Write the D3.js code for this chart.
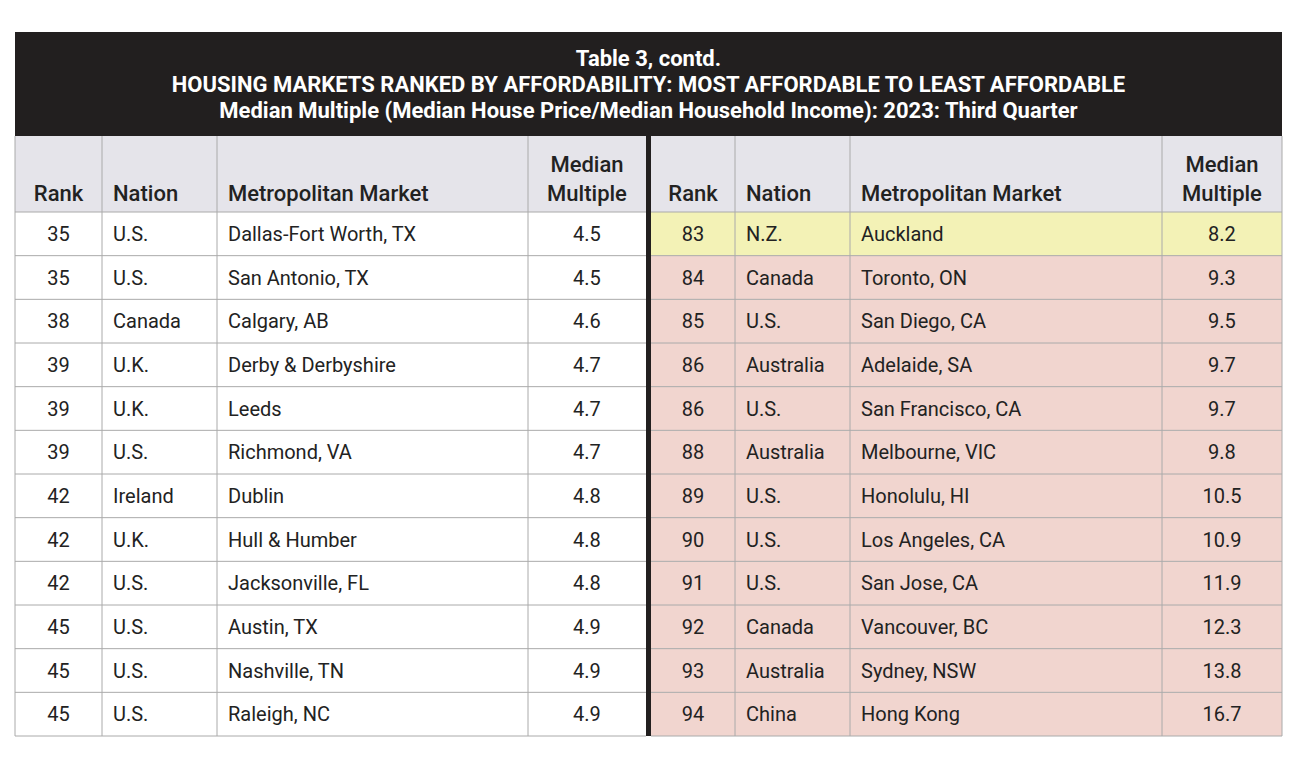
<!DOCTYPE html>
<html><head><meta charset="utf-8">
<script src="https://cdn.jsdelivr.net/npm/d3@7"></script>
<style>body{margin:0;background:#fff}</style></head>
<body><svg id="c" width="1300" height="780"></svg>
<script>
const titleLines=["Table 3, contd.","HOUSING MARKETS RANKED BY AFFORDABILITY: MOST AFFORDABLE TO LEAST AFFORDABLE","Median Multiple (Median House Price/Median Household Income): 2023: Third Quarter"];
const headers=["Rank","Nation","Metropolitan Market","Median Multiple"];
const leftRanks=[35,35,38,39,39,39,42,42,42,45,45,45];
const leftNations=["U.S.","U.S.","Canada","U.K.","U.K.","U.S.","Ireland","U.K.","U.S.","U.S.","U.S.","U.S."];
const leftMarkets=["Dallas-Fort Worth, TX","San Antonio, TX","Calgary, AB","Derby & Derbyshire","Leeds","Richmond, VA","Dublin","Hull & Humber","Jacksonville, FL","Austin, TX","Nashville, TN","Raleigh, NC"];
const leftValues=[4.5,4.5,4.6,4.7,4.7,4.7,4.8,4.8,4.8,4.9,4.9,4.9];
const rightRanks=[83,84,85,86,86,88,89,90,91,92,93,94];
const rightNations=["N.Z.","Canada","U.S.","Australia","U.S.","Australia","U.S.","U.S.","U.S.","Canada","Australia","China"];
const rightMarkets=["Auckland","Toronto, ON","San Diego, CA","Adelaide, SA","San Francisco, CA","Melbourne, VIC","Honolulu, HI","Los Angeles, CA","San Jose, CA","Vancouver, BC","Sydney, NSW","Hong Kong"];
const rightValues=[8.2,9.3,9.5,9.7,9.7,9.8,10.5,10.9,11.9,12.3,13.8,16.7];

const svg=d3.select("#c");
const F="Roboto, sans-serif";
const X0=15,X1=1282,TOP=32,HEAD=136,COLH=212,BOT=736;
const y=d3.scaleBand().domain(d3.range(12)).range([COLH,BOT]);
const colsL=[15,102,217,528,646];
const colsR=[651,735,850,1162,1282];

svg.append("rect").attr("x",X0).attr("y",TOP).attr("width",X1-X0).attr("height",HEAD-TOP).attr("fill","#221f1f");
svg.selectAll("text.t").data(titleLines).join("text").attr("x",(X0+X1)/2).attr("y",(d,i)=>66+i*26)
 .attr("text-anchor","middle").attr("fill","#fff").attr("font-family",F).attr("font-weight","bold").attr("font-size",22).text(d=>d);
svg.append("rect").attr("x",X0).attr("y",HEAD).attr("width",X1-X0).attr("height",COLH-HEAD).attr("fill","#e5e4ea");

function side(cols,ranks,nations,markets,values,right){
  const g=svg.append("g");
  const rows=d3.range(12);
  g.selectAll("rect.r").data(rows).join("rect").attr("x",cols[0]).attr("y",i=>y(i)).attr("width",cols[4]-cols[0]).attr("height",y.bandwidth())
   .attr("fill",i=>!right?"#fff":(i===0?"#f3f2b6":"#f1d5cf"));
  headers.forEach((h,k)=>{
    const lines=h==="Median Multiple"?["Median","Multiple"]:[h];
    const cx=k===0||k===3?(cols[k]+cols[k+1])/2:cols[k]+11;
    lines.forEach((l,j)=>g.append("text").attr("x",cx).attr("y",201-(lines.length-1-j)*29)
      .attr("text-anchor",k===0||k===3?"middle":"start").attr("font-family",F).attr("font-weight",500).attr("font-size",22).attr("fill","#222").text(l));
  });
  const data=[ranks,nations,markets,values.map(v=>v.toFixed(1))];
  data.forEach((arr,k)=>{
    g.selectAll("text.c"+k).data(arr).join("text").attr("x",k===0||k===3?(cols[k]+cols[k+1])/2:cols[k]+11)
     .attr("y",(d,i)=>y(i)+y.bandwidth()/2+7).attr("text-anchor",k===0||k===3?"middle":"start")
     .attr("font-family",F).attr("font-size",20).attr("fill","#222").text(d=>d);
  });
  cols.slice(1,4).forEach(cx=>g.append("line").attr("x1",cx).attr("x2",cx).attr("y1",HEAD).attr("y2",BOT).attr("stroke","#aaa"));
  rows.concat([12]).forEach(i=>g.append("line").attr("x1",cols[0]).attr("x2",cols[4]).attr("y1",i<12?y(i):BOT).attr("y2",i<12?y(i):BOT).attr("stroke","#aaa"));
}
side(colsL,leftRanks,leftNations,leftMarkets,leftValues,false);
side(colsR,rightRanks,rightNations,rightMarkets,rightValues,true);
svg.append("line").attr("x1",X0).attr("x2",X0).attr("y1",HEAD).attr("y2",BOT).attr("stroke","#aaa");
svg.append("line").attr("x1",X1).attr("x2",X1).attr("y1",HEAD).attr("y2",BOT).attr("stroke","#aaa");
svg.append("rect").attr("x",646).attr("y",HEAD).attr("width",5).attr("height",BOT-HEAD).attr("fill","#221f1f");
</script></body></html>
